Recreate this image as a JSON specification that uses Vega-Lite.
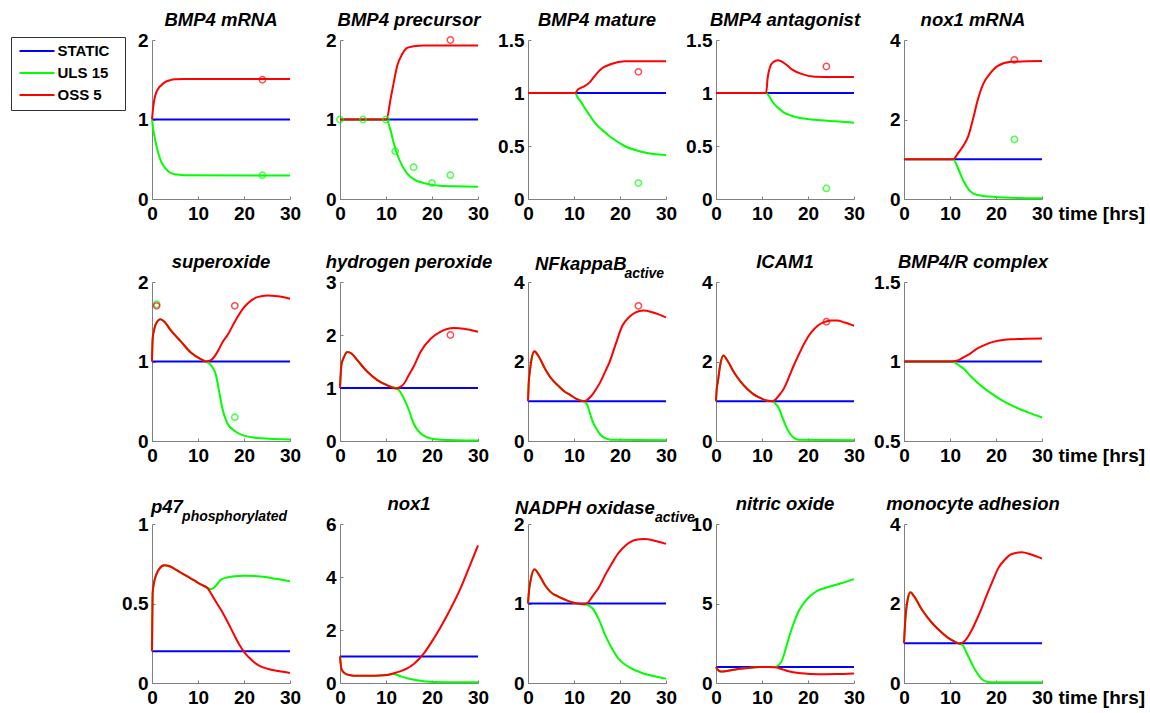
{
  "$schema": "https://vega.github.io/schema/vega-lite/v6.json",
  "padding": {"left": 10, "top": 10, "right": 5, "bottom": 5},
  "columns": 5,
  "spacing": {"row": 83, "column": 50},
  "bounds": "flush",
  "datasets": {
    "curves": [
      {"p":"BMP4 mRNA","t":0,"STATIC":1,"ULS 15":1,"OSS 5":1},
      {"p":"BMP4 mRNA","t":0.2,"ULS 15":0.9,"OSS 5":1.12},
      {"p":"BMP4 mRNA","t":0.5,"ULS 15":0.8,"OSS 5":1.25},
      {"p":"BMP4 mRNA","t":1,"ULS 15":0.66,"OSS 5":1.35},
      {"p":"BMP4 mRNA","t":1.5,"ULS 15":0.55,"OSS 5":1.4},
      {"p":"BMP4 mRNA","t":2,"ULS 15":0.47,"OSS 5":1.43},
      {"p":"BMP4 mRNA","t":3,"ULS 15":0.38,"OSS 5":1.475},
      {"p":"BMP4 mRNA","t":4,"ULS 15":0.33,"OSS 5":1.495},
      {"p":"BMP4 mRNA","t":5,"ULS 15":0.31,"OSS 5":1.505},
      {"p":"BMP4 mRNA","t":7,"ULS 15":0.3,"OSS 5":1.51},
      {"p":"BMP4 mRNA","t":30,"STATIC":1,"ULS 15":0.295,"OSS 5":1.51},

      {"p":"BMP4 precursor","t":0,"STATIC":1,"ULS 15":1,"OSS 5":1},
      {"p":"BMP4 precursor","t":10.1,"ULS 15":1,"OSS 5":1},
      {"p":"BMP4 precursor","t":11,"ULS 15":0.86,"OSS 5":1.26},
      {"p":"BMP4 precursor","t":11.7,"ULS 15":0.7,"OSS 5":1.47},
      {"p":"BMP4 precursor","t":12.45,"ULS 15":0.56,"OSS 5":1.68},
      {"p":"BMP4 precursor","t":13.5,"ULS 15":0.42,"OSS 5":1.82},
      {"p":"BMP4 precursor","t":14.6,"ULS 15":0.32,"OSS 5":1.9},
      {"p":"BMP4 precursor","t":16,"ULS 15":0.25,"OSS 5":1.92},
      {"p":"BMP4 precursor","t":18.2,"ULS 15":0.2,"OSS 5":1.93},
      {"p":"BMP4 precursor","t":21.8,"ULS 15":0.167,"OSS 5":1.93},
      {"p":"BMP4 precursor","t":25,"ULS 15":0.16},
      {"p":"BMP4 precursor","t":30,"STATIC":1,"ULS 15":0.155,"OSS 5":1.93},

      {"p":"BMP4 mature","t":0,"STATIC":1,"ULS 15":1,"OSS 5":1},
      {"p":"BMP4 mature","t":10.2,"ULS 15":1,"OSS 5":1},
      {"p":"BMP4 mature","t":10.9,"ULS 15":0.95,"OSS 5":1.035},
      {"p":"BMP4 mature","t":11.6,"ULS 15":0.912,"OSS 5":1.05},
      {"p":"BMP4 mature","t":12.3,"ULS 15":0.86,"OSS 5":1.065},
      {"p":"BMP4 mature","t":13.4,"ULS 15":0.79,"OSS 5":1.1},
      {"p":"BMP4 mature","t":14.5,"ULS 15":0.72,"OSS 5":1.16},
      {"p":"BMP4 mature","t":15.9,"ULS 15":0.66,"OSS 5":1.226},
      {"p":"BMP4 mature","t":18.1,"ULS 15":0.58,"OSS 5":1.274},
      {"p":"BMP4 mature","t":21,"ULS 15":0.5,"OSS 5":1.3},
      {"p":"BMP4 mature","t":24.6,"ULS 15":0.446,"OSS 5":1.3},
      {"p":"BMP4 mature","t":30,"STATIC":1,"ULS 15":0.415,"OSS 5":1.3},

      {"p":"BMP4 antagonist","t":0,"STATIC":1,"ULS 15":1,"OSS 5":1},
      {"p":"BMP4 antagonist","t":10.9,"ULS 15":1,"OSS 5":1},
      {"p":"BMP4 antagonist","t":11.2,"ULS 15":0.99,"OSS 5":1.13},
      {"p":"BMP4 antagonist","t":11.7,"ULS 15":0.96,"OSS 5":1.24},
      {"p":"BMP4 antagonist","t":12.4,"ULS 15":0.91,"OSS 5":1.29},
      {"p":"BMP4 antagonist","t":13.5,"ULS 15":0.86,"OSS 5":1.31},
      {"p":"BMP4 antagonist","t":14.6,"ULS 15":0.82,"OSS 5":1.29},
      {"p":"BMP4 antagonist","t":16.4,"ULS 15":0.785,"OSS 5":1.226},
      {"p":"BMP4 antagonist","t":18.6,"ULS 15":0.762,"OSS 5":1.18},
      {"p":"BMP4 antagonist","t":21.5,"ULS 15":0.748,"OSS 5":1.154},
      {"p":"BMP4 antagonist","t":25.9,"ULS 15":0.733,"OSS 5":1.15},
      {"p":"BMP4 antagonist","t":30,"STATIC":1,"ULS 15":0.72,"OSS 5":1.15},

      {"p":"nox1 mRNA","t":0,"STATIC":1,"ULS 15":1,"OSS 5":1},
      {"p":"nox1 mRNA","t":10.7,"ULS 15":1,"OSS 5":1},
      {"p":"nox1 mRNA","t":11.8,"ULS 15":0.755,"OSS 5":1.16},
      {"p":"nox1 mRNA","t":12.9,"ULS 15":0.46,"OSS 5":1.34},
      {"p":"nox1 mRNA","t":14,"ULS 15":0.25,"OSS 5":1.59},
      {"p":"nox1 mRNA","t":15,"ULS 15":0.14,"OSS 5":2.01},
      {"p":"nox1 mRNA","t":16.1,"ULS 15":0.1,"OSS 5":2.52},
      {"p":"nox1 mRNA","t":17.2,"ULS 15":0.075,"OSS 5":2.89},
      {"p":"nox1 mRNA","t":18.6,"ULS 15":0.06,"OSS 5":3.14},
      {"p":"nox1 mRNA","t":20.4,"ULS 15":0.045,"OSS 5":3.35},
      {"p":"nox1 mRNA","t":23.3,"ULS 15":0.03,"OSS 5":3.45},
      {"p":"nox1 mRNA","t":30,"STATIC":1,"ULS 15":0.02,"OSS 5":3.47},

      {"p":"superoxide","t":0,"STATIC":1,"ULS 15":1,"OSS 5":1},
      {"p":"superoxide","t":0.15,"ULS 15":1.29,"OSS 5":1.29},
      {"p":"superoxide","t":0.5,"ULS 15":1.41,"OSS 5":1.41},
      {"p":"superoxide","t":1.1,"ULS 15":1.5,"OSS 5":1.5},
      {"p":"superoxide","t":1.8,"ULS 15":1.53,"OSS 5":1.53},
      {"p":"superoxide","t":2.7,"ULS 15":1.5,"OSS 5":1.5},
      {"p":"superoxide","t":4.1,"ULS 15":1.39,"OSS 5":1.39},
      {"p":"superoxide","t":6.3,"ULS 15":1.25,"OSS 5":1.25},
      {"p":"superoxide","t":8.5,"ULS 15":1.11,"OSS 5":1.11},
      {"p":"superoxide","t":10.6,"ULS 15":1.03,"OSS 5":1.03},
      {"p":"superoxide","t":11.7,"ULS 15":1,"OSS 5":1},
      {"p":"superoxide","t":12.8,"ULS 15":0.954,"OSS 5":1.016},
      {"p":"superoxide","t":13.9,"ULS 15":0.83,"OSS 5":1.09},
      {"p":"superoxide","t":14.6,"ULS 15":0.62,"OSS 5":1.16},
      {"p":"superoxide","t":15.3,"ULS 15":0.41,"OSS 5":1.24},
      {"p":"superoxide","t":16.4,"ULS 15":0.22,"OSS 5":1.33},
      {"p":"superoxide","t":17.9,"ULS 15":0.13,"OSS 5":1.49},
      {"p":"superoxide","t":18.6,"OSS 5":1.56},
      {"p":"superoxide","t":20,"ULS 15":0.068,"OSS 5":1.68},
      {"p":"superoxide","t":20.8,"OSS 5":1.73},
      {"p":"superoxide","t":22.9,"OSS 5":1.81},
      {"p":"superoxide","t":23.6,"ULS 15":0.034},
      {"p":"superoxide","t":25.1,"OSS 5":1.83},
      {"p":"superoxide","t":27.3,"OSS 5":1.82},
      {"p":"superoxide","t":30,"STATIC":1,"ULS 15":0.02,"OSS 5":1.79},

      {"p":"hydrogen peroxide","t":0,"STATIC":1,"ULS 15":1,"OSS 5":1},
      {"p":"hydrogen peroxide","t":0.3,"ULS 15":1.43,"OSS 5":1.43},
      {"p":"hydrogen peroxide","t":0.9,"ULS 15":1.59,"OSS 5":1.59},
      {"p":"hydrogen peroxide","t":1.6,"ULS 15":1.68,"OSS 5":1.68},
      {"p":"hydrogen peroxide","t":2.5,"ULS 15":1.65,"OSS 5":1.65},
      {"p":"hydrogen peroxide","t":3.8,"ULS 15":1.52,"OSS 5":1.52},
      {"p":"hydrogen peroxide","t":5.9,"ULS 15":1.31,"OSS 5":1.31},
      {"p":"hydrogen peroxide","t":8.1,"ULS 15":1.15,"OSS 5":1.15},
      {"p":"hydrogen peroxide","t":10.3,"ULS 15":1.05,"OSS 5":1.05},
      {"p":"hydrogen peroxide","t":12.1,"ULS 15":1,"OSS 5":0.99},
      {"p":"hydrogen peroxide","t":12.8,"ULS 15":0.96,"OSS 5":1.005},
      {"p":"hydrogen peroxide","t":13.9,"ULS 15":0.8,"OSS 5":1.08},
      {"p":"hydrogen peroxide","t":15,"ULS 15":0.58,"OSS 5":1.25},
      {"p":"hydrogen peroxide","t":16,"ULS 15":0.33,"OSS 5":1.4},
      {"p":"hydrogen peroxide","t":17.5,"ULS 15":0.145,"OSS 5":1.68},
      {"p":"hydrogen peroxide","t":19.7,"ULS 15":0.05,"OSS 5":1.93},
      {"p":"hydrogen peroxide","t":21.8,"ULS 15":0.025,"OSS 5":2.06},
      {"p":"hydrogen peroxide","t":24.7,"OSS 5":2.13},
      {"p":"hydrogen peroxide","t":26.9,"OSS 5":2.12},
      {"p":"hydrogen peroxide","t":30,"STATIC":1,"ULS 15":0.01,"OSS 5":2.06},

      {"p":"NFkappaB active","t":0,"STATIC":1,"ULS 15":1,"OSS 5":1},
      {"p":"NFkappaB active","t":0.15,"ULS 15":1.45,"OSS 5":1.45},
      {"p":"NFkappaB active","t":0.4,"ULS 15":1.75,"OSS 5":1.75},
      {"p":"NFkappaB active","t":0.8,"ULS 15":2.08,"OSS 5":2.08},
      {"p":"NFkappaB active","t":1.4,"ULS 15":2.26,"OSS 5":2.26},
      {"p":"NFkappaB active","t":2.2,"ULS 15":2.15,"OSS 5":2.15},
      {"p":"NFkappaB active","t":3.7,"ULS 15":1.82,"OSS 5":1.82},
      {"p":"NFkappaB active","t":5,"ULS 15":1.58,"OSS 5":1.58},
      {"p":"NFkappaB active","t":6.5,"ULS 15":1.4,"OSS 5":1.4},
      {"p":"NFkappaB active","t":8,"ULS 15":1.24,"OSS 5":1.24},
      {"p":"NFkappaB active","t":9.3,"ULS 15":1.15,"OSS 5":1.15},
      {"p":"NFkappaB active","t":10.5,"ULS 15":1.06,"OSS 5":1.06},
      {"p":"NFkappaB active","t":12.1,"ULS 15":1,"OSS 5":1},
      {"p":"NFkappaB active","t":12.8,"ULS 15":0.93,"OSS 5":1.03},
      {"p":"NFkappaB active","t":13.5,"ULS 15":0.68,"OSS 5":1.1},
      {"p":"NFkappaB active","t":14.2,"ULS 15":0.45,"OSS 5":1.2},
      {"p":"NFkappaB active","t":14.9,"ULS 15":0.3,"OSS 5":1.32},
      {"p":"NFkappaB active","t":15.8,"ULS 15":0.15,"OSS 5":1.5},
      {"p":"NFkappaB active","t":16.8,"ULS 15":0.07,"OSS 5":1.75},
      {"p":"NFkappaB active","t":17.7,"OSS 5":1.98},
      {"p":"NFkappaB active","t":18,"ULS 15":0.03},
      {"p":"NFkappaB active","t":19.1,"OSS 5":2.45},
      {"p":"NFkappaB active","t":20.5,"OSS 5":2.9},
      {"p":"NFkappaB active","t":22,"OSS 5":3.12},
      {"p":"NFkappaB active","t":23.3,"OSS 5":3.23},
      {"p":"NFkappaB active","t":25.1,"OSS 5":3.28},
      {"p":"NFkappaB active","t":27,"OSS 5":3.24},
      {"p":"NFkappaB active","t":30,"STATIC":1,"ULS 15":0.02,"OSS 5":3.11},

      {"p":"ICAM1","t":0,"STATIC":1,"ULS 15":1,"OSS 5":1},
      {"p":"ICAM1","t":0.15,"ULS 15":1.3,"OSS 5":1.3},
      {"p":"ICAM1","t":0.4,"ULS 15":1.49,"OSS 5":1.49},
      {"p":"ICAM1","t":0.9,"ULS 15":1.9,"OSS 5":1.9},
      {"p":"ICAM1","t":1.6,"ULS 15":2.15,"OSS 5":2.15},
      {"p":"ICAM1","t":2.5,"ULS 15":2.02,"OSS 5":2.02},
      {"p":"ICAM1","t":3.9,"ULS 15":1.73,"OSS 5":1.73},
      {"p":"ICAM1","t":5.3,"ULS 15":1.5,"OSS 5":1.5},
      {"p":"ICAM1","t":6.7,"ULS 15":1.32,"OSS 5":1.32},
      {"p":"ICAM1","t":8.1,"ULS 15":1.18,"OSS 5":1.18},
      {"p":"ICAM1","t":9.5,"ULS 15":1.09,"OSS 5":1.09},
      {"p":"ICAM1","t":11,"ULS 15":1.02,"OSS 5":1.02},
      {"p":"ICAM1","t":12.3,"ULS 15":1,"OSS 5":1},
      {"p":"ICAM1","t":13,"ULS 15":0.93,"OSS 5":1.05},
      {"p":"ICAM1","t":13.7,"ULS 15":0.82,"OSS 5":1.15},
      {"p":"ICAM1","t":14.4,"ULS 15":0.6,"OSS 5":1.25},
      {"p":"ICAM1","t":15.1,"ULS 15":0.4,"OSS 5":1.4},
      {"p":"ICAM1","t":16,"ULS 15":0.2,"OSS 5":1.65},
      {"p":"ICAM1","t":16.9,"ULS 15":0.08,"OSS 5":1.9},
      {"p":"ICAM1","t":17.9,"OSS 5":2.15},
      {"p":"ICAM1","t":18,"ULS 15":0.03},
      {"p":"ICAM1","t":19.3,"OSS 5":2.48},
      {"p":"ICAM1","t":20.7,"OSS 5":2.73},
      {"p":"ICAM1","t":22.1,"OSS 5":2.9},
      {"p":"ICAM1","t":23.5,"OSS 5":2.99},
      {"p":"ICAM1","t":25,"OSS 5":3.03},
      {"p":"ICAM1","t":26.3,"OSS 5":3.03},
      {"p":"ICAM1","t":28,"OSS 5":2.98},
      {"p":"ICAM1","t":30,"STATIC":1,"ULS 15":0.02,"OSS 5":2.9},

      {"p":"BMP4/R complex","t":0,"STATIC":1,"ULS 15":1,"OSS 5":1},
      {"p":"BMP4/R complex","t":10.5,"ULS 15":1,"OSS 5":1},
      {"p":"BMP4/R complex","t":11.2,"ULS 15":0.99,"OSS 5":1.003},
      {"p":"BMP4/R complex","t":12,"ULS 15":0.975,"OSS 5":1.01},
      {"p":"BMP4/R complex","t":13,"ULS 15":0.954,"OSS 5":1.027},
      {"p":"BMP4/R complex","t":14.4,"ULS 15":0.91,"OSS 5":1.05},
      {"p":"BMP4/R complex","t":15.8,"ULS 15":0.871,"OSS 5":1.08},
      {"p":"BMP4/R complex","t":17.6,"ULS 15":0.828,"OSS 5":1.105},
      {"p":"BMP4/R complex","t":19.6,"ULS 15":0.787,"OSS 5":1.125},
      {"p":"BMP4/R complex","t":21.5,"ULS 15":0.753,"OSS 5":1.135},
      {"p":"BMP4/R complex","t":23.3,"ULS 15":0.725,"OSS 5":1.14},
      {"p":"BMP4/R complex","t":25,"ULS 15":0.703},
      {"p":"BMP4/R complex","t":27,"ULS 15":0.68},
      {"p":"BMP4/R complex","t":30,"STATIC":1,"ULS 15":0.648,"OSS 5":1.145},

      {"p":"p47 phosphorylated","t":0,"STATIC":0.2,"ULS 15":0.2,"OSS 5":0.2},
      {"p":"p47 phosphorylated","t":0.05,"ULS 15":0.35,"OSS 5":0.35},
      {"p":"p47 phosphorylated","t":0.15,"ULS 15":0.57,"OSS 5":0.57},
      {"p":"p47 phosphorylated","t":0.5,"ULS 15":0.64,"OSS 5":0.64},
      {"p":"p47 phosphorylated","t":0.9,"ULS 15":0.68,"OSS 5":0.68},
      {"p":"p47 phosphorylated","t":1.5,"ULS 15":0.715,"OSS 5":0.715},
      {"p":"p47 phosphorylated","t":2.7,"ULS 15":0.74,"OSS 5":0.74},
      {"p":"p47 phosphorylated","t":3.5,"ULS 15":0.737,"OSS 5":0.737},
      {"p":"p47 phosphorylated","t":4.8,"ULS 15":0.72,"OSS 5":0.72},
      {"p":"p47 phosphorylated","t":6.2,"ULS 15":0.695,"OSS 5":0.695},
      {"p":"p47 phosphorylated","t":7.7,"ULS 15":0.67,"OSS 5":0.67},
      {"p":"p47 phosphorylated","t":9.2,"ULS 15":0.645,"OSS 5":0.645},
      {"p":"p47 phosphorylated","t":10.6,"ULS 15":0.62,"OSS 5":0.62},
      {"p":"p47 phosphorylated","t":12.1,"ULS 15":0.598,"OSS 5":0.596},
      {"p":"p47 phosphorylated","t":12.8,"ULS 15":0.59,"OSS 5":0.565},
      {"p":"p47 phosphorylated","t":13.5,"ULS 15":0.6,"OSS 5":0.53},
      {"p":"p47 phosphorylated","t":15,"ULS 15":0.65,"OSS 5":0.46},
      {"p":"p47 phosphorylated","t":16.5,"ULS 15":0.665,"OSS 5":0.38},
      {"p":"p47 phosphorylated","t":17.9,"ULS 15":0.672,"OSS 5":0.3},
      {"p":"p47 phosphorylated","t":19,"OSS 5":0.24},
      {"p":"p47 phosphorylated","t":20,"ULS 15":0.675,"OSS 5":0.196},
      {"p":"p47 phosphorylated","t":21.1,"OSS 5":0.16},
      {"p":"p47 phosphorylated","t":22.2,"OSS 5":0.13},
      {"p":"p47 phosphorylated","t":23.6,"ULS 15":0.67,"OSS 5":0.105},
      {"p":"p47 phosphorylated","t":25.1,"OSS 5":0.09},
      {"p":"p47 phosphorylated","t":27,"ULS 15":0.655},
      {"p":"p47 phosphorylated","t":27.5,"OSS 5":0.075},
      {"p":"p47 phosphorylated","t":30,"STATIC":0.2,"ULS 15":0.64,"OSS 5":0.063},

      {"p":"nox1","t":0,"STATIC":1,"ULS 15":1,"OSS 5":1},
      {"p":"nox1","t":0.3,"ULS 15":0.54,"OSS 5":0.54},
      {"p":"nox1","t":0.7,"ULS 15":0.42,"OSS 5":0.42},
      {"p":"nox1","t":1.2,"ULS 15":0.35,"OSS 5":0.35},
      {"p":"nox1","t":2,"ULS 15":0.3,"OSS 5":0.3},
      {"p":"nox1","t":3,"ULS 15":0.27,"OSS 5":0.27},
      {"p":"nox1","t":6,"ULS 15":0.27,"OSS 5":0.27},
      {"p":"nox1","t":9.5,"ULS 15":0.29,"OSS 5":0.29},
      {"p":"nox1","t":11,"ULS 15":0.33,"OSS 5":0.33},
      {"p":"nox1","t":11.7,"ULS 15":0.34,"OSS 5":0.37},
      {"p":"nox1","t":12.5,"ULS 15":0.3,"OSS 5":0.41},
      {"p":"nox1","t":13.2,"ULS 15":0.25,"OSS 5":0.45},
      {"p":"nox1","t":14.6,"ULS 15":0.18,"OSS 5":0.55},
      {"p":"nox1","t":16.1,"ULS 15":0.125,"OSS 5":0.73},
      {"p":"nox1","t":18.2,"ULS 15":0.07,"OSS 5":1.11},
      {"p":"nox1","t":20.4,"ULS 15":0.04,"OSS 5":1.68},
      {"p":"nox1","t":23.3,"OSS 5":2.56},
      {"p":"nox1","t":25,"ULS 15":0.03},
      {"p":"nox1","t":26.2,"OSS 5":3.57},
      {"p":"nox1","t":28.3,"OSS 5":4.46},
      {"p":"nox1","t":30,"STATIC":1,"ULS 15":0.03,"OSS 5":5.19},

      {"p":"NADPH oxidase active","t":0,"STATIC":1,"ULS 15":1,"OSS 5":1},
      {"p":"NADPH oxidase active","t":0.2,"ULS 15":1.15,"OSS 5":1.15},
      {"p":"NADPH oxidase active","t":0.6,"ULS 15":1.3,"OSS 5":1.3},
      {"p":"NADPH oxidase active","t":1.4,"ULS 15":1.43,"OSS 5":1.43},
      {"p":"NADPH oxidase active","t":2.2,"ULS 15":1.38,"OSS 5":1.38},
      {"p":"NADPH oxidase active","t":3.7,"ULS 15":1.23,"OSS 5":1.23},
      {"p":"NADPH oxidase active","t":5,"ULS 15":1.14,"OSS 5":1.14},
      {"p":"NADPH oxidase active","t":6.5,"ULS 15":1.09,"OSS 5":1.09},
      {"p":"NADPH oxidase active","t":8,"ULS 15":1.05,"OSS 5":1.05},
      {"p":"NADPH oxidase active","t":9.3,"ULS 15":1.02,"OSS 5":1.02},
      {"p":"NADPH oxidase active","t":10.7,"ULS 15":1,"OSS 5":1},
      {"p":"NADPH oxidase active","t":12.1,"ULS 15":0.99,"OSS 5":0.99},
      {"p":"NADPH oxidase active","t":13,"ULS 15":0.98,"OSS 5":1.01},
      {"p":"NADPH oxidase active","t":14,"ULS 15":0.94,"OSS 5":1.09},
      {"p":"NADPH oxidase active","t":15.4,"ULS 15":0.8,"OSS 5":1.2},
      {"p":"NADPH oxidase active","t":16.8,"ULS 15":0.6,"OSS 5":1.36},
      {"p":"NADPH oxidase active","t":18.2,"ULS 15":0.44,"OSS 5":1.5},
      {"p":"NADPH oxidase active","t":19.6,"ULS 15":0.31,"OSS 5":1.63},
      {"p":"NADPH oxidase active","t":21.4,"ULS 15":0.22,"OSS 5":1.74},
      {"p":"NADPH oxidase active","t":23.3,"ULS 15":0.16,"OSS 5":1.8},
      {"p":"NADPH oxidase active","t":25.1,"ULS 15":0.12,"OSS 5":1.81},
      {"p":"NADPH oxidase active","t":27.5,"ULS 15":0.085,"OSS 5":1.79},
      {"p":"NADPH oxidase active","t":30,"STATIC":1,"ULS 15":0.055,"OSS 5":1.75},

      {"p":"nitric oxide","t":0,"STATIC":1,"ULS 15":1,"OSS 5":1},
      {"p":"nitric oxide","t":0.5,"ULS 15":0.8,"OSS 5":0.8},
      {"p":"nitric oxide","t":1.1,"ULS 15":0.72,"OSS 5":0.72},
      {"p":"nitric oxide","t":2,"ULS 15":0.74,"OSS 5":0.74},
      {"p":"nitric oxide","t":3.5,"ULS 15":0.82,"OSS 5":0.82},
      {"p":"nitric oxide","t":4.8,"ULS 15":0.88,"OSS 5":0.88},
      {"p":"nitric oxide","t":7,"ULS 15":0.95,"OSS 5":0.95},
      {"p":"nitric oxide","t":9.5,"ULS 15":1,"OSS 5":1},
      {"p":"nitric oxide","t":11.5,"ULS 15":1,"OSS 5":1},
      {"p":"nitric oxide","t":12.5,"ULS 15":1,"OSS 5":0.99},
      {"p":"nitric oxide","t":13.2,"ULS 15":1.05,"OSS 5":0.97},
      {"p":"nitric oxide","t":14.2,"ULS 15":1.33,"OSS 5":0.88},
      {"p":"nitric oxide","t":15.1,"ULS 15":2.1,"OSS 5":0.8},
      {"p":"nitric oxide","t":16,"ULS 15":3,"OSS 5":0.72},
      {"p":"nitric oxide","t":17,"ULS 15":3.85,"OSS 5":0.67},
      {"p":"nitric oxide","t":17.9,"ULS 15":4.48,"OSS 5":0.63},
      {"p":"nitric oxide","t":19.3,"ULS 15":5.1,"OSS 5":0.59},
      {"p":"nitric oxide","t":20.7,"ULS 15":5.53,"OSS 5":0.57},
      {"p":"nitric oxide","t":22,"ULS 15":5.8},
      {"p":"nitric oxide","t":23.5,"ULS 15":5.96,"OSS 5":0.55},
      {"p":"nitric oxide","t":25.4,"ULS 15":6.12},
      {"p":"nitric oxide","t":26,"OSS 5":0.56},
      {"p":"nitric oxide","t":27.2,"ULS 15":6.27},
      {"p":"nitric oxide","t":30,"STATIC":1,"ULS 15":6.53,"OSS 5":0.6},

      {"p":"monocyte adhesion","t":0,"STATIC":1,"ULS 15":1,"OSS 5":1},
      {"p":"monocyte adhesion","t":0.3,"ULS 15":1.62,"OSS 5":1.62},
      {"p":"monocyte adhesion","t":0.8,"ULS 15":2.1,"OSS 5":2.1},
      {"p":"monocyte adhesion","t":1.4,"ULS 15":2.28,"OSS 5":2.28},
      {"p":"monocyte adhesion","t":2.2,"ULS 15":2.18,"OSS 5":2.18},
      {"p":"monocyte adhesion","t":3.7,"ULS 15":1.88,"OSS 5":1.88},
      {"p":"monocyte adhesion","t":5.1,"ULS 15":1.65,"OSS 5":1.65},
      {"p":"monocyte adhesion","t":6.5,"ULS 15":1.46,"OSS 5":1.46},
      {"p":"monocyte adhesion","t":7.9,"ULS 15":1.3,"OSS 5":1.3},
      {"p":"monocyte adhesion","t":9.3,"ULS 15":1.16,"OSS 5":1.16},
      {"p":"monocyte adhesion","t":10.7,"ULS 15":1.06,"OSS 5":1.06},
      {"p":"monocyte adhesion","t":12.1,"ULS 15":0.99,"OSS 5":0.99},
      {"p":"monocyte adhesion","t":12.8,"ULS 15":0.95,"OSS 5":1.02},
      {"p":"monocyte adhesion","t":13.5,"ULS 15":0.78,"OSS 5":1.1},
      {"p":"monocyte adhesion","t":14.2,"ULS 15":0.62,"OSS 5":1.22},
      {"p":"monocyte adhesion","t":14.9,"ULS 15":0.45,"OSS 5":1.37},
      {"p":"monocyte adhesion","t":15.9,"ULS 15":0.25,"OSS 5":1.62},
      {"p":"monocyte adhesion","t":16.8,"ULS 15":0.11,"OSS 5":1.86},
      {"p":"monocyte adhesion","t":17.7,"OSS 5":2.13},
      {"p":"monocyte adhesion","t":17.8,"ULS 15":0.04},
      {"p":"monocyte adhesion","t":18.6,"ULS 15":0.02},
      {"p":"monocyte adhesion","t":19.1,"OSS 5":2.52},
      {"p":"monocyte adhesion","t":20.5,"OSS 5":2.89},
      {"p":"monocyte adhesion","t":21.9,"OSS 5":3.1},
      {"p":"monocyte adhesion","t":23.3,"OSS 5":3.24},
      {"p":"monocyte adhesion","t":25.6,"OSS 5":3.29},
      {"p":"monocyte adhesion","t":27.5,"OSS 5":3.24},
      {"p":"monocyte adhesion","t":30,"STATIC":1,"ULS 15":0.02,"OSS 5":3.13}
    ],
    "obs": [
      {"p":"BMP4 mRNA","series":"ULS 15","t":24,"value":0.3},
      {"p":"BMP4 mRNA","series":"OSS 5","t":24,"value":1.5},
      {"p":"BMP4 precursor","series":"ULS 15","t":0,"value":1},
      {"p":"BMP4 precursor","series":"ULS 15","t":5,"value":1},
      {"p":"BMP4 precursor","series":"ULS 15","t":10,"value":1},
      {"p":"BMP4 precursor","series":"ULS 15","t":12,"value":0.6},
      {"p":"BMP4 precursor","series":"ULS 15","t":16,"value":0.4},
      {"p":"BMP4 precursor","series":"ULS 15","t":20,"value":0.2},
      {"p":"BMP4 precursor","series":"ULS 15","t":24,"value":0.3},
      {"p":"BMP4 precursor","series":"OSS 5","t":24,"value":2},
      {"p":"BMP4 mature","series":"ULS 15","t":24,"value":0.15},
      {"p":"BMP4 mature","series":"OSS 5","t":24,"value":1.2},
      {"p":"BMP4 antagonist","series":"ULS 15","t":24,"value":0.1},
      {"p":"BMP4 antagonist","series":"OSS 5","t":24,"value":1.25},
      {"p":"nox1 mRNA","series":"ULS 15","t":24,"value":1.5},
      {"p":"nox1 mRNA","series":"OSS 5","t":24,"value":3.5},
      {"p":"superoxide","series":"ULS 15","t":1,"value":1.72},
      {"p":"superoxide","series":"ULS 15","t":18,"value":0.3},
      {"p":"superoxide","series":"OSS 5","t":1,"value":1.7},
      {"p":"superoxide","series":"OSS 5","t":18,"value":1.7},
      {"p":"hydrogen peroxide","series":"OSS 5","t":24,"value":2},
      {"p":"NFkappaB active","series":"OSS 5","t":24,"value":3.4},
      {"p":"ICAM1","series":"OSS 5","t":24,"value":3}
    ]
  },
  "concat": [
    {"width":138,"height":159,"title":{"text":"BMP4 mRNA"},
     "layer":[
      {"data":{"name":"curves"},"transform":[{"filter":"datum.p === 'BMP4 mRNA'"},{"fold":["STATIC","ULS 15","OSS 5"],"as":["series","value"]},{"filter":"isValid(datum.value)"}],
       "mark":{"type":"line","strokeWidth":2,"interpolate":"monotone"},
       "encoding":{"x":{"field":"t","type":"quantitative","scale":{"domain":[0,30],"nice":false},"axis":{"values":[0,10,20,30],"title":null}},
        "y":{"field":"value","type":"quantitative","scale":{"domain":[0,2],"nice":false},"axis":{"values":[0,1,2],"title":null}},
        "color":{"field":"series","type":"nominal","scale":{"domain":["STATIC","ULS 15","OSS 5"],"range":["#0000ff","#00ff00","#ff0000"]},"legend":{"title":null,"labelExpr":"datum.label + '\u00a0\u00a0\u200b'"}}}},
      {"data":{"name":"obs"},"transform":[{"filter":"datum.p === 'BMP4 mRNA'"}],
       "mark":{"type":"point","filled":false,"size":40,"strokeWidth":1.5},
       "encoding":{"x":{"field":"t","type":"quantitative"},"y":{"field":"value","type":"quantitative"},
        "stroke":{"field":"series","type":"nominal","scale":{"domain":["STATIC","ULS 15","OSS 5"],"range":["#0000ff","#00ff00","#ff0000"]},"legend":null}}}
     ]},
    {"width":138,"height":159,"title":{"text":"BMP4 precursor"},
     "layer":[
      {"data":{"name":"curves"},"transform":[{"filter":"datum.p === 'BMP4 precursor'"},{"fold":["STATIC","ULS 15","OSS 5"],"as":["series","value"]},{"filter":"isValid(datum.value)"}],
       "mark":{"type":"line","strokeWidth":2,"interpolate":"monotone"},
       "encoding":{"x":{"field":"t","type":"quantitative","scale":{"domain":[0,30],"nice":false},"axis":{"values":[0,10,20,30],"title":null}},
        "y":{"field":"value","type":"quantitative","scale":{"domain":[0,2],"nice":false},"axis":{"values":[0,1,2],"title":null}},
        "color":{"field":"series","type":"nominal","scale":{"domain":["STATIC","ULS 15","OSS 5"],"range":["#0000ff","#00ff00","#ff0000"]},"legend":{"title":null,"labelExpr":"datum.label + '\u00a0\u00a0\u200b'"}}}},
      {"data":{"name":"obs"},"transform":[{"filter":"datum.p === 'BMP4 precursor'"}],
       "mark":{"type":"point","filled":false,"size":40,"strokeWidth":1.5},
       "encoding":{"x":{"field":"t","type":"quantitative"},"y":{"field":"value","type":"quantitative"},
        "stroke":{"field":"series","type":"nominal","scale":{"domain":["STATIC","ULS 15","OSS 5"],"range":["#0000ff","#00ff00","#ff0000"]},"legend":null}}}
     ]},
    {"width":138,"height":159,"title":{"text":"BMP4 mature"},
     "layer":[
      {"data":{"name":"curves"},"transform":[{"filter":"datum.p === 'BMP4 mature'"},{"fold":["STATIC","ULS 15","OSS 5"],"as":["series","value"]},{"filter":"isValid(datum.value)"}],
       "mark":{"type":"line","strokeWidth":2,"interpolate":"monotone"},
       "encoding":{"x":{"field":"t","type":"quantitative","scale":{"domain":[0,30],"nice":false},"axis":{"values":[0,10,20,30],"title":null}},
        "y":{"field":"value","type":"quantitative","scale":{"domain":[0,1.5],"nice":false},"axis":{"values":[0,0.5,1,1.5],"title":null}},
        "color":{"field":"series","type":"nominal","scale":{"domain":["STATIC","ULS 15","OSS 5"],"range":["#0000ff","#00ff00","#ff0000"]},"legend":{"title":null,"labelExpr":"datum.label + '\u00a0\u00a0\u200b'"}}}},
      {"data":{"name":"obs"},"transform":[{"filter":"datum.p === 'BMP4 mature'"}],
       "mark":{"type":"point","filled":false,"size":40,"strokeWidth":1.5},
       "encoding":{"x":{"field":"t","type":"quantitative"},"y":{"field":"value","type":"quantitative"},
        "stroke":{"field":"series","type":"nominal","scale":{"domain":["STATIC","ULS 15","OSS 5"],"range":["#0000ff","#00ff00","#ff0000"]},"legend":null}}}
     ]},
    {"width":138,"height":159,"title":{"text":"BMP4 antagonist"},
     "layer":[
      {"data":{"name":"curves"},"transform":[{"filter":"datum.p === 'BMP4 antagonist'"},{"fold":["STATIC","ULS 15","OSS 5"],"as":["series","value"]},{"filter":"isValid(datum.value)"}],
       "mark":{"type":"line","strokeWidth":2,"interpolate":"monotone"},
       "encoding":{"x":{"field":"t","type":"quantitative","scale":{"domain":[0,30],"nice":false},"axis":{"values":[0,10,20,30],"title":null}},
        "y":{"field":"value","type":"quantitative","scale":{"domain":[0,1.5],"nice":false},"axis":{"values":[0,0.5,1,1.5],"title":null}},
        "color":{"field":"series","type":"nominal","scale":{"domain":["STATIC","ULS 15","OSS 5"],"range":["#0000ff","#00ff00","#ff0000"]},"legend":{"title":null,"labelExpr":"datum.label + '\u00a0\u00a0\u200b'"}}}},
      {"data":{"name":"obs"},"transform":[{"filter":"datum.p === 'BMP4 antagonist'"}],
       "mark":{"type":"point","filled":false,"size":40,"strokeWidth":1.5},
       "encoding":{"x":{"field":"t","type":"quantitative"},"y":{"field":"value","type":"quantitative"},
        "stroke":{"field":"series","type":"nominal","scale":{"domain":["STATIC","ULS 15","OSS 5"],"range":["#0000ff","#00ff00","#ff0000"]},"legend":null}}}
     ]},
    {"width":138,"height":159,"title":{"text":"nox1 mRNA"},
     "layer":[
      {"data":{"name":"curves"},"transform":[{"filter":"datum.p === 'nox1 mRNA'"},{"fold":["STATIC","ULS 15","OSS 5"],"as":["series","value"]},{"filter":"isValid(datum.value)"}],
       "mark":{"type":"line","strokeWidth":2,"interpolate":"monotone"},
       "encoding":{"x":{"field":"t","type":"quantitative","scale":{"domain":[0,30],"nice":false},"axis":{"values":[0,10,20,30],"title":"time [hrs]","titleX":154,"titleY":14,"titleAlign":"left","titleBaseline":"middle","titleAngle":0}},
        "y":{"field":"value","type":"quantitative","scale":{"domain":[0,4],"nice":false},"axis":{"values":[0,2,4],"title":null}},
        "color":{"field":"series","type":"nominal","scale":{"domain":["STATIC","ULS 15","OSS 5"],"range":["#0000ff","#00ff00","#ff0000"]},"legend":{"title":null,"labelExpr":"datum.label + '\u00a0\u00a0\u200b'"}}}},
      {"data":{"name":"obs"},"transform":[{"filter":"datum.p === 'nox1 mRNA'"}],
       "mark":{"type":"point","filled":false,"size":40,"strokeWidth":1.5},
       "encoding":{"x":{"field":"t","type":"quantitative"},"y":{"field":"value","type":"quantitative"},
        "stroke":{"field":"series","type":"nominal","scale":{"domain":["STATIC","ULS 15","OSS 5"],"range":["#0000ff","#00ff00","#ff0000"]},"legend":null}}}
     ]},
    {"width":138,"height":159,"title":{"text":"superoxide"},
     "layer":[
      {"data":{"name":"curves"},"transform":[{"filter":"datum.p === 'superoxide'"},{"fold":["STATIC","ULS 15","OSS 5"],"as":["series","value"]},{"filter":"isValid(datum.value)"}],
       "mark":{"type":"line","strokeWidth":2,"interpolate":"monotone"},
       "encoding":{"x":{"field":"t","type":"quantitative","scale":{"domain":[0,30],"nice":false},"axis":{"values":[0,10,20,30],"title":null}},
        "y":{"field":"value","type":"quantitative","scale":{"domain":[0,2],"nice":false},"axis":{"values":[0,1,2],"title":null}},
        "color":{"field":"series","type":"nominal","scale":{"domain":["STATIC","ULS 15","OSS 5"],"range":["#0000ff","#00ff00","#ff0000"]},"legend":{"title":null,"labelExpr":"datum.label + '\u00a0\u00a0\u200b'"}}}},
      {"data":{"name":"obs"},"transform":[{"filter":"datum.p === 'superoxide'"}],
       "mark":{"type":"point","filled":false,"size":40,"strokeWidth":1.5},
       "encoding":{"x":{"field":"t","type":"quantitative"},"y":{"field":"value","type":"quantitative"},
        "stroke":{"field":"series","type":"nominal","scale":{"domain":["STATIC","ULS 15","OSS 5"],"range":["#0000ff","#00ff00","#ff0000"]},"legend":null}}}
     ]},
    {"width":138,"height":159,"title":{"text":"hydrogen peroxide"},
     "layer":[
      {"data":{"name":"curves"},"transform":[{"filter":"datum.p === 'hydrogen peroxide'"},{"fold":["STATIC","ULS 15","OSS 5"],"as":["series","value"]},{"filter":"isValid(datum.value)"}],
       "mark":{"type":"line","strokeWidth":2,"interpolate":"monotone"},
       "encoding":{"x":{"field":"t","type":"quantitative","scale":{"domain":[0,30],"nice":false},"axis":{"values":[0,10,20,30],"title":null}},
        "y":{"field":"value","type":"quantitative","scale":{"domain":[0,3],"nice":false},"axis":{"values":[0,1,2,3],"title":null}},
        "color":{"field":"series","type":"nominal","scale":{"domain":["STATIC","ULS 15","OSS 5"],"range":["#0000ff","#00ff00","#ff0000"]},"legend":{"title":null,"labelExpr":"datum.label + '\u00a0\u00a0\u200b'"}}}},
      {"data":{"name":"obs"},"transform":[{"filter":"datum.p === 'hydrogen peroxide'"}],
       "mark":{"type":"point","filled":false,"size":40,"strokeWidth":1.5},
       "encoding":{"x":{"field":"t","type":"quantitative"},"y":{"field":"value","type":"quantitative"},
        "stroke":{"field":"series","type":"nominal","scale":{"domain":["STATIC","ULS 15","OSS 5"],"range":["#0000ff","#00ff00","#ff0000"]},"legend":null}}}
     ]},
    {"width":138,"height":159,"title":{"text":"NFkappaB","subtitle":"\u200b\u00a0\u00a0\u00a0\u00a0\u00a0\u00a0\u00a0\u00a0\u00a0\u00a0\u00a0\u00a0\u00a0\u00a0\u00a0\u00a0\u00a0\u00a0\u00a0\u00a0\u00a0\u00a0\u00a0active","anchor":"start","dx":7,"offset":-8,"subtitlePadding":-6},
     "layer":[
      {"data":{"name":"curves"},"transform":[{"filter":"datum.p === 'NFkappaB active'"},{"fold":["STATIC","ULS 15","OSS 5"],"as":["series","value"]},{"filter":"isValid(datum.value)"}],
       "mark":{"type":"line","strokeWidth":2,"interpolate":"monotone"},
       "encoding":{"x":{"field":"t","type":"quantitative","scale":{"domain":[0,30],"nice":false},"axis":{"values":[0,10,20,30],"title":null}},
        "y":{"field":"value","type":"quantitative","scale":{"domain":[0,4],"nice":false},"axis":{"values":[0,2,4],"title":null}},
        "color":{"field":"series","type":"nominal","scale":{"domain":["STATIC","ULS 15","OSS 5"],"range":["#0000ff","#00ff00","#ff0000"]},"legend":{"title":null,"labelExpr":"datum.label + '\u00a0\u00a0\u200b'"}}}},
      {"data":{"name":"obs"},"transform":[{"filter":"datum.p === 'NFkappaB active'"}],
       "mark":{"type":"point","filled":false,"size":40,"strokeWidth":1.5},
       "encoding":{"x":{"field":"t","type":"quantitative"},"y":{"field":"value","type":"quantitative"},
        "stroke":{"field":"series","type":"nominal","scale":{"domain":["STATIC","ULS 15","OSS 5"],"range":["#0000ff","#00ff00","#ff0000"]},"legend":null}}}
     ]},
    {"width":138,"height":159,"title":{"text":"ICAM1"},
     "layer":[
      {"data":{"name":"curves"},"transform":[{"filter":"datum.p === 'ICAM1'"},{"fold":["STATIC","ULS 15","OSS 5"],"as":["series","value"]},{"filter":"isValid(datum.value)"}],
       "mark":{"type":"line","strokeWidth":2,"interpolate":"monotone"},
       "encoding":{"x":{"field":"t","type":"quantitative","scale":{"domain":[0,30],"nice":false},"axis":{"values":[0,10,20,30],"title":null}},
        "y":{"field":"value","type":"quantitative","scale":{"domain":[0,4],"nice":false},"axis":{"values":[0,2,4],"title":null}},
        "color":{"field":"series","type":"nominal","scale":{"domain":["STATIC","ULS 15","OSS 5"],"range":["#0000ff","#00ff00","#ff0000"]},"legend":{"title":null,"labelExpr":"datum.label + '\u00a0\u00a0\u200b'"}}}},
      {"data":{"name":"obs"},"transform":[{"filter":"datum.p === 'ICAM1'"}],
       "mark":{"type":"point","filled":false,"size":40,"strokeWidth":1.5},
       "encoding":{"x":{"field":"t","type":"quantitative"},"y":{"field":"value","type":"quantitative"},
        "stroke":{"field":"series","type":"nominal","scale":{"domain":["STATIC","ULS 15","OSS 5"],"range":["#0000ff","#00ff00","#ff0000"]},"legend":null}}}
     ]},
    {"width":138,"height":159,"title":{"text":"BMP4/R complex"},
     "layer":[
      {"data":{"name":"curves"},"transform":[{"filter":"datum.p === 'BMP4/R complex'"},{"fold":["STATIC","ULS 15","OSS 5"],"as":["series","value"]},{"filter":"isValid(datum.value)"}],
       "mark":{"type":"line","strokeWidth":2,"interpolate":"monotone"},
       "encoding":{"x":{"field":"t","type":"quantitative","scale":{"domain":[0,30],"nice":false},"axis":{"values":[0,10,20,30],"title":"time [hrs]","titleX":154,"titleY":14,"titleAlign":"left","titleBaseline":"middle","titleAngle":0}},
        "y":{"field":"value","type":"quantitative","scale":{"domain":[0.5,1.5],"nice":false,"zero":false},"axis":{"values":[0.5,1,1.5],"title":null}},
        "color":{"field":"series","type":"nominal","scale":{"domain":["STATIC","ULS 15","OSS 5"],"range":["#0000ff","#00ff00","#ff0000"]},"legend":{"title":null,"labelExpr":"datum.label + '\u00a0\u00a0\u200b'"}}}}
     ]},
    {"width":138,"height":159,"title":{"text":"p47","subtitle":"\u200b\u00a0\u00a0\u00a0\u00a0\u00a0\u00a0\u00a0\u00a0phosphorylated","anchor":"start","dx":-1,"offset":-9,"subtitlePadding":-6},
     "layer":[
      {"data":{"name":"curves"},"transform":[{"filter":"datum.p === 'p47 phosphorylated'"},{"fold":["STATIC","ULS 15","OSS 5"],"as":["series","value"]},{"filter":"isValid(datum.value)"}],
       "mark":{"type":"line","strokeWidth":2,"interpolate":"monotone"},
       "encoding":{"x":{"field":"t","type":"quantitative","scale":{"domain":[0,30],"nice":false},"axis":{"values":[0,10,20,30],"title":null}},
        "y":{"field":"value","type":"quantitative","scale":{"domain":[0,1],"nice":false},"axis":{"values":[0,0.5,1],"title":null}},
        "color":{"field":"series","type":"nominal","scale":{"domain":["STATIC","ULS 15","OSS 5"],"range":["#0000ff","#00ff00","#ff0000"]},"legend":{"title":null,"labelExpr":"datum.label + '\u00a0\u00a0\u200b'"}}}}
     ]},
    {"width":138,"height":159,"title":{"text":"nox1"},
     "layer":[
      {"data":{"name":"curves"},"transform":[{"filter":"datum.p === 'nox1'"},{"fold":["STATIC","ULS 15","OSS 5"],"as":["series","value"]},{"filter":"isValid(datum.value)"}],
       "mark":{"type":"line","strokeWidth":2,"interpolate":"monotone"},
       "encoding":{"x":{"field":"t","type":"quantitative","scale":{"domain":[0,30],"nice":false},"axis":{"values":[0,10,20,30],"title":null}},
        "y":{"field":"value","type":"quantitative","scale":{"domain":[0,6],"nice":false},"axis":{"values":[0,2,4,6],"title":null}},
        "color":{"field":"series","type":"nominal","scale":{"domain":["STATIC","ULS 15","OSS 5"],"range":["#0000ff","#00ff00","#ff0000"]},"legend":{"title":null,"labelExpr":"datum.label + '\u00a0\u00a0\u200b'"}}}}
     ]},
    {"width":138,"height":159,"title":{"text":"NADPH oxidase","subtitle":"\u200b\u00a0\u00a0\u00a0\u00a0\u00a0\u00a0\u00a0\u00a0\u00a0\u00a0\u00a0\u00a0\u00a0\u00a0\u00a0\u00a0\u00a0\u00a0\u00a0\u00a0\u00a0\u00a0\u00a0\u00a0\u00a0\u00a0\u00a0\u00a0\u00a0\u00a0\u00a0\u00a0\u00a0\u00a0\u00a0\u00a0active","anchor":"start","dx":-13,"offset":-10,"subtitlePadding":-6},
     "layer":[
      {"data":{"name":"curves"},"transform":[{"filter":"datum.p === 'NADPH oxidase active'"},{"fold":["STATIC","ULS 15","OSS 5"],"as":["series","value"]},{"filter":"isValid(datum.value)"}],
       "mark":{"type":"line","strokeWidth":2,"interpolate":"monotone"},
       "encoding":{"x":{"field":"t","type":"quantitative","scale":{"domain":[0,30],"nice":false},"axis":{"values":[0,10,20,30],"title":null}},
        "y":{"field":"value","type":"quantitative","scale":{"domain":[0,2],"nice":false},"axis":{"values":[0,1,2],"title":null}},
        "color":{"field":"series","type":"nominal","scale":{"domain":["STATIC","ULS 15","OSS 5"],"range":["#0000ff","#00ff00","#ff0000"]},"legend":{"title":null,"labelExpr":"datum.label + '\u00a0\u00a0\u200b'"}}}}
     ]},
    {"width":138,"height":159,"title":{"text":"nitric oxide"},
     "layer":[
      {"data":{"name":"curves"},"transform":[{"filter":"datum.p === 'nitric oxide'"},{"fold":["STATIC","ULS 15","OSS 5"],"as":["series","value"]},{"filter":"isValid(datum.value)"}],
       "mark":{"type":"line","strokeWidth":2,"interpolate":"monotone"},
       "encoding":{"x":{"field":"t","type":"quantitative","scale":{"domain":[0,30],"nice":false},"axis":{"values":[0,10,20,30],"title":null}},
        "y":{"field":"value","type":"quantitative","scale":{"domain":[0,10],"nice":false},"axis":{"values":[0,5,10],"title":null}},
        "color":{"field":"series","type":"nominal","scale":{"domain":["STATIC","ULS 15","OSS 5"],"range":["#0000ff","#00ff00","#ff0000"]},"legend":{"title":null,"labelExpr":"datum.label + '\u00a0\u00a0\u200b'"}}}}
     ]},
    {"width":138,"height":159,"title":{"text":"monocyte adhesion"},
     "layer":[
      {"data":{"name":"curves"},"transform":[{"filter":"datum.p === 'monocyte adhesion'"},{"fold":["STATIC","ULS 15","OSS 5"],"as":["series","value"]},{"filter":"isValid(datum.value)"}],
       "mark":{"type":"line","strokeWidth":2,"interpolate":"monotone"},
       "encoding":{"x":{"field":"t","type":"quantitative","scale":{"domain":[0,30],"nice":false},"axis":{"values":[0,10,20,30],"title":"time [hrs]","titleX":154,"titleY":14,"titleAlign":"left","titleBaseline":"middle","titleAngle":0}},
        "y":{"field":"value","type":"quantitative","scale":{"domain":[0,4],"nice":false},"axis":{"values":[0,2,4],"title":null}},
        "color":{"field":"series","type":"nominal","scale":{"domain":["STATIC","ULS 15","OSS 5"],"range":["#0000ff","#00ff00","#ff0000"]},"legend":{"title":null,"labelExpr":"datum.label + '\u00a0\u00a0\u200b'"}}}}
     ]}
  ],
  "config": {
    "view": {"stroke": null},
    "font": "Liberation Sans",
    "axis": {
      "grid": false,
      "domainColor": "#808080",
      "domainWidth": 1,
      "tickColor": "#808080",
      "tickSize": -3,
      "labelFont": "Liberation Sans",
      "labelFontSize": 19,
      "labelFontWeight": "bold",
      "labelColor": "#000000",
      "labelFlush": false,
      "labelOverlap": false,
      "format": "~r",
      "titleFont": "Liberation Sans",
      "titleFontSize": 19,
      "titleFontWeight": "bold",
      "titleColor": "#000000"
    },
    "axisX": {"labelPadding": 8},
    "axisY": {"labelPadding": 7},
    "title": {
      "font": "Liberation Sans",
      "fontSize": 18.5,
      "fontStyle": "italic",
      "fontWeight": "bold",
      "color": "#000000",
      "anchor": "middle",
      "frame": "group",
      "offset": 2,
      "subtitleFont": "Liberation Sans",
      "subtitleFontSize": 14,
      "subtitleFontStyle": "italic",
      "subtitleFontWeight": "bold",
      "subtitleColor": "#000000",
      "subtitlePadding": -6
    },
    "legend": {
      "orient": "none",
      "legendX": -141,
      "legendY": -3,
      "symbolType": "M-3,0H3",
      "symbolSize": 136,
      "symbolStrokeWidth": 2,
      "labelFont": "Liberation Sans",
      "labelFontSize": 15,
      "labelFontWeight": "bold",
      "labelColor": "#000000",
      "strokeColor": "#333333",
      "fillColor": "#ffffff",
      "padding": 6.5,
      "rowPadding": 6,
      "symbolOffset": 12,
      "labelOffset": 13
    }
  }
}
